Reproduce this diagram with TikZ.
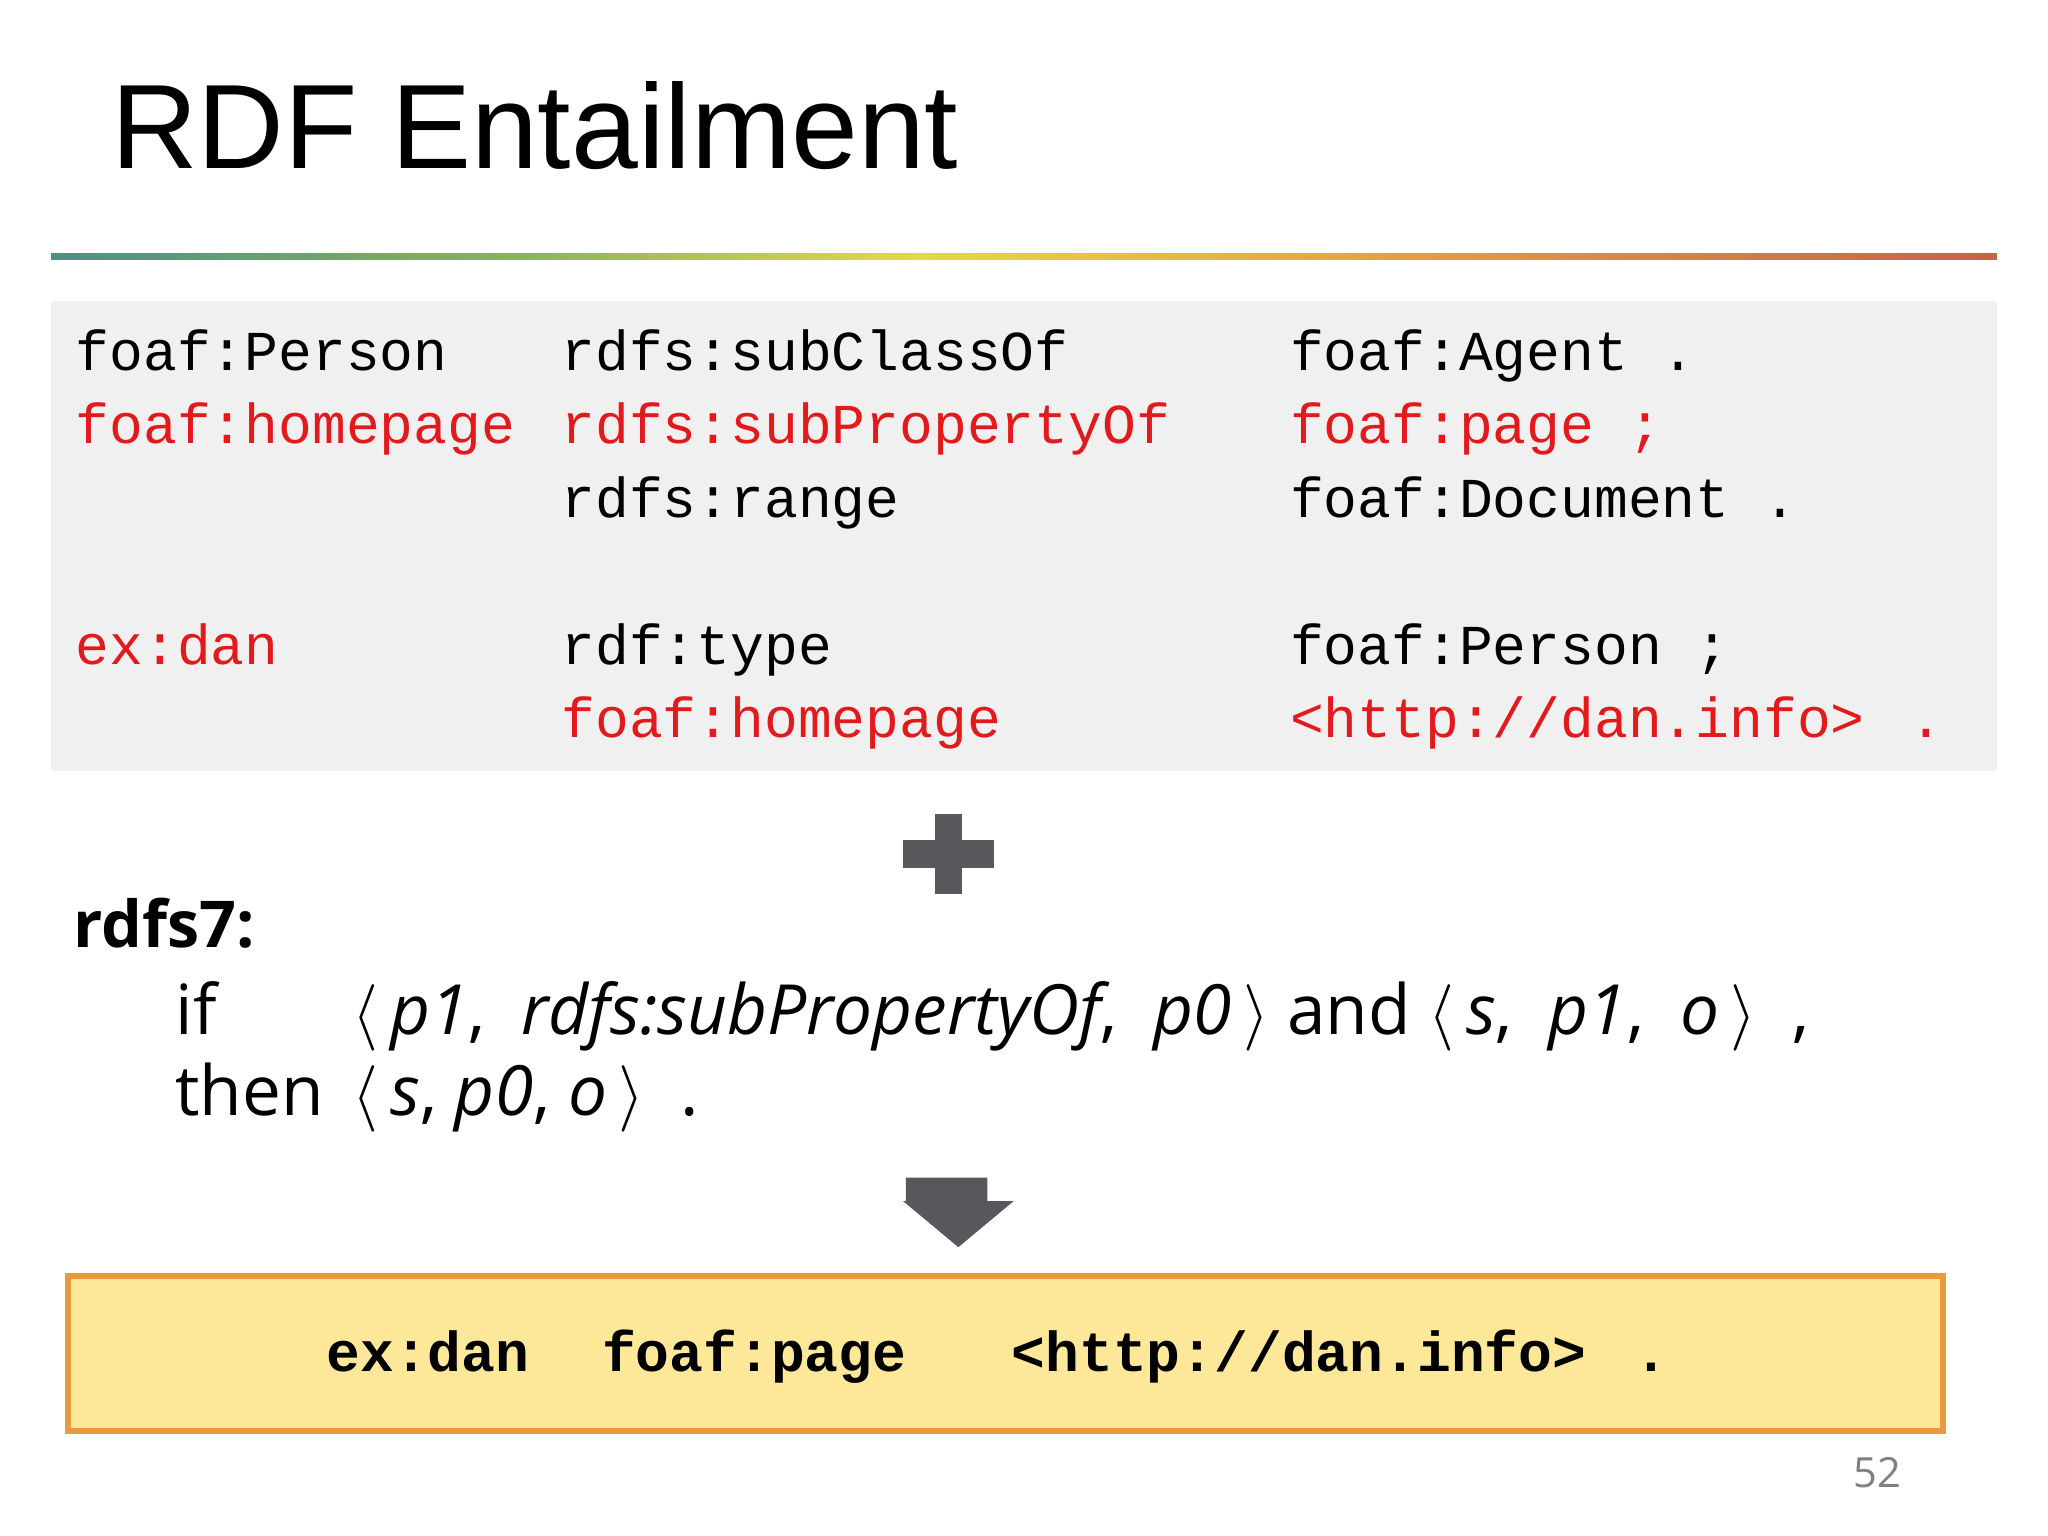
\documentclass[tikz,border=0pt]{standalone}
\usepackage{fontspec}
\setmainfont{Open Sans}
\setmonofont{Liberation Mono}
\newfontfamily\titlefont{Liberation Sans}
\usetikzlibrary{shadings}
\definecolor{codered}{HTML}{E31A1C}
\definecolor{boxgray}{HTML}{F0F0F0}
\definecolor{arrowgray}{HTML}{58575C}
\definecolor{ybox}{HTML}{FDE89A}
\definecolor{obox}{HTML}{E89A3C}
\definecolor{g1}{HTML}{4E8F86}
\definecolor{g2}{HTML}{8BB45A}
\definecolor{g3}{HTML}{E3D84A}
\definecolor{g4}{HTML}{E8A040}
\definecolor{g5}{HTML}{C9604A}
\tikzset{
  code/.style={anchor=base west,inner sep=0pt,font=\fontsize{12.2}{14}\ttfamily},
  red/.style={text=codered},
  rule/.style={anchor=base west,inner sep=0pt,font=\fontsize{15}{18}\selectfont}
}
\begin{document}
\begin{tikzpicture}[x=0.01cm,y=-0.01cm]
\useasboundingbox (0,0) rectangle (1560,1170);
\fill[white] (0,0) rectangle (1560,1170);
\node[anchor=base west,inner sep=0pt,font=\fontsize{26}{30}\titlefont] (title) at (84,128) {RDF Entailment};
% gradient line
\shade[left color=g1, right color=g2] (39,193) rectangle (400,198);
\shade[left color=g2, right color=g3] (400,193) rectangle (700,198);
\shade[left color=g3, right color=g4] (700,193) rectangle (1050,198);
\shade[left color=g4, right color=g5] (1050,193) rectangle (1521,198);
\fill[boxgray] (39,229) rectangle (1521,587);
\node[code] (a1) at (57,282) {foaf:Person};
\node[code] (a2) at (427,282) {rdfs:subClassOf};
\node[code] (a3) at (982,282) {foaf:Agent .};
\node[code,red] (b1) at (57,338) {foaf:homepage};
\node[code,red] (b2) at (427,338) {rdfs:subPropertyOf};
\node[code,red] (b3) at (982,338) {foaf:page ;};
\node[code] (c2) at (427,394) {rdfs:range};
\node[code] (c3) at (982,394) {foaf:Document .};
\node[code,red] (d1) at (57,506) {ex:dan};
\node[code] (d2) at (427,506) {rdf:type};
\node[code] (d3) at (982,506) {foaf:Person ;};
\node[code,red] (e2) at (427,562) {foaf:homepage};
\node[code,red] (e3) at (982,562) {<http://dan.info>};
\node[code,red] (e4) at (1454,562) {.};
% plus
\fill[arrowgray] (712,620) rectangle (733,681);
\fill[arrowgray] (688,640) rectangle (757,661);
\node[anchor=base west,inner sep=0pt,font=\fontsize{14}{18}\bfseries] (r7) at (55,722) {rdfs7:};
\node[rule] (if) at (133,788) {if};
\node[rule] (ifb) at (268,788) {$\langle$\,\textit{p1},\ \ \textit{rdfs:subPropertyOf},\ \ \textit{p0}\,$\rangle$ and $\langle$\,\textit{s},\ \ \textit{p1},\ \ \textit{o}\,$\rangle$\ \ ,};
\node[rule] (then) at (133,850) {then};
\node[rule] (thenb) at (268,850) {$\langle$\,\textit{s}, \textit{p0}, \textit{o}\,$\rangle$\ \ .};
% down arrow
\fill[arrowgray] (690,897) -- (752,897) -- (752,915) -- (772,915) -- (730,950) -- (688,915) -- (690,915) -- cycle;
\draw[obox,fill=ybox,line width=1.2pt] (52,972) rectangle (1480,1090);
\node[code,font=\fontsize{12.2}{14}\ttfamily\bfseries] (f1) at (248,1045) {ex:dan};
\node[code,font=\fontsize{12.2}{14}\ttfamily\bfseries] (f2) at (458,1045) {foaf:page};
\node[code,font=\fontsize{12.2}{14}\ttfamily\bfseries] (f3) at (770,1045) {<http://dan.info>};
\node[code,font=\fontsize{12.2}{14}\ttfamily\bfseries] (f4) at (1244,1045) {.};
\node[inner sep=0pt,font=\fontsize{9}{10}\selectfont,text=gray] (pg) at (1430,1122) {52};
\end{tikzpicture}
\end{document}
